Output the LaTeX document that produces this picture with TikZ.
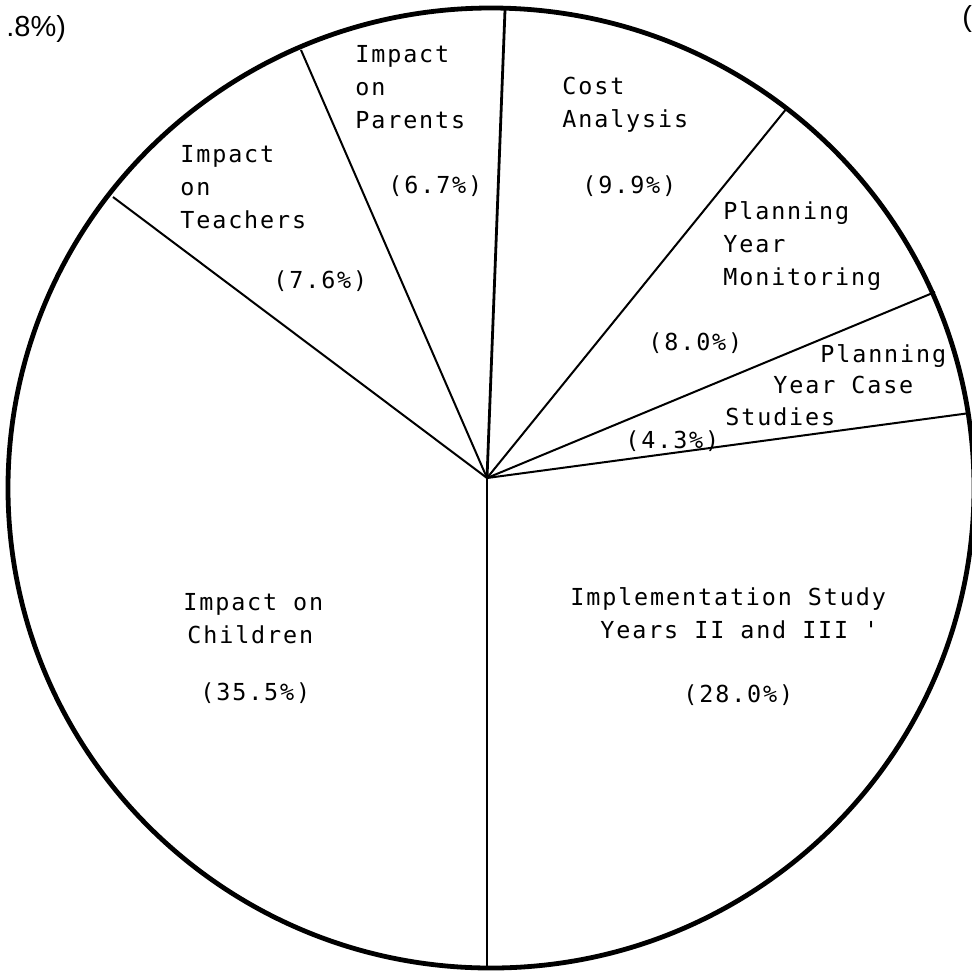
\documentclass[tikz,border=0pt]{standalone}
\usepackage{fontspec}
\newfontfamily\typefont[LetterSpace=8]{DejaVu Sans Mono}
\newfontfamily\edgefont{Liberation Sans}

\begin{document}
\begin{tikzpicture}[x=0.5pt,y=-0.5pt,
  rim/.style={line width=2.4pt},
  spoke/.style={line width=1pt},
  mainspoke/.style={line width=1.4pt},
  slice/.style={font=\typefont\fontsize{11.7}{16.3}\selectfont,
    inner sep=0pt, anchor=base west, align=left},
  edge/.style={font=\edgefont\fontsize{14.5}{17}\selectfont,
    inner sep=0pt, anchor=base west}]
\useasboundingbox (0,0) rectangle (972,970);
\clip (0,0) rectangle (972,970);

% outline of the pie
\coordinate (rimc) at (491,488);
\draw[rim] (rimc) ellipse [x radius=483, y radius=480];

% hub and the points where the slice boundaries meet the rim
\coordinate (hub) at (487,478);
\coordinate (pTC) at (113,197);
\coordinate (pTP) at (301,50);
\coordinate (pPC) at (505,10);
\coordinate (pCM) at (787,108);
\coordinate (pMS) at (935,292);
\coordinate (pSI) at (970,413);
\coordinate (pIC) at (487,968);

\draw[spoke] (hub) -- (pTC);
\draw[spoke] (hub) -- (pTP);
\draw[mainspoke] (hub) -- (pPC);
\draw[spoke] (hub) -- (pCM);
\draw[spoke] (hub) -- (pMS);
\draw[spoke] (hub) -- (pSI);
\draw[mainspoke] (hub) -- (pIC);

% slice labels (multi-line labels are placed by their last baseline)
\node[slice] (teach) at (180,228) {Impact\\on\\Teachers};
\node[slice] (teachp) at (273,288) {(7.6\%)};
\node[slice] (par) at (355,128) {Impact\\on\\Parents};
\node[slice] (parp) at (388,193) {(6.7\%)};
\node[slice] (cost) at (562,127) {Cost\\Analysis};
\node[slice] (costp) at (582,193) {(9.9\%)};
\node[slice] (mon) at (723,285) {Planning\\Year\\Monitoring};
\node[slice] (monp) at (648,350) {(8.0\%)};
\node[slice] (case1) at (820,362) {Planning};
\node[slice] (case2) at (773,393) {Year Case};
\node[slice] (case3) at (725,425) {Studies};
\node[slice] (casep) at (625,448) {(4.3\%)};
\node[slice] (child) at (183,643) {Impact on\\\hspace*{2pt}Children};
\node[slice] (childp) at (200,700) {(35.5\%)};
\node[slice] (impl) at (570,638) {Implementation Study\\\hspace*{15pt}Years II and III '};
\node[slice] (implp) at (683,702) {(28.0\%)};

% fragments of neighbouring text at the page edges
\node[edge] (leftfrag) at (6,36) {.8\%)};
\node[edge] (rightfrag) at (962,26) {(};
\end{tikzpicture}
\end{document}
